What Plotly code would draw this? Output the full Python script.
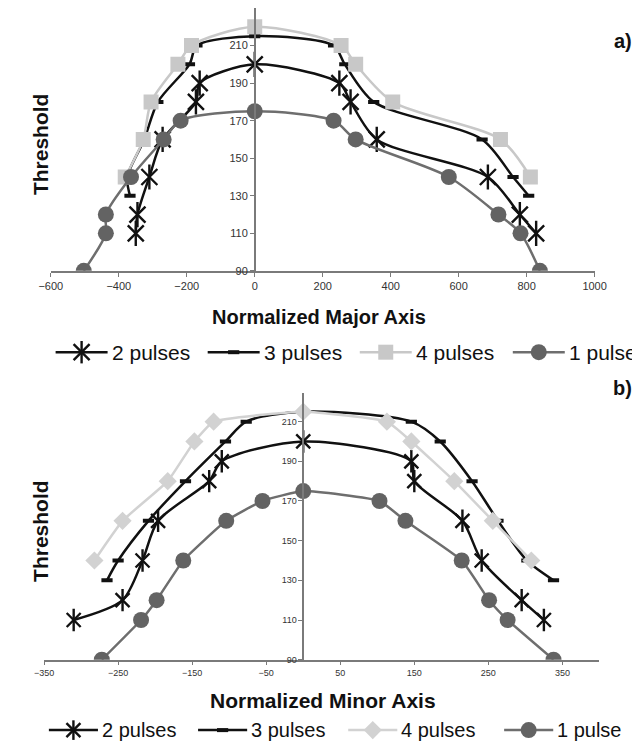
import plotly.graph_objects as go

# ---------------- Panel a) Normalized Major Axis ----------------
a_x_2 = [-350, -345, -310, -271, -173, -162, 0, 249, 282, 359, 686, 780, 828]
a_y_2 = [110, 120, 140, 160, 180, 190, 200, 190, 180, 160, 140, 120, 110]
a_x_3 = [-367, -375, -325, -285, -192, -170, 0, 232, 265, 350, 669, 760, 806]
a_y_3 = [130, 140, 160, 180, 200, 210, 215, 210, 200, 180, 160, 140, 130]
a_x_4 = [-381, -328, -305, -226, -186, 0, 254, 297, 406, 723, 811]
a_y_4 = [140, 160, 180, 200, 210, 220, 210, 200, 180, 160, 140]
a_x_1 = [-503, -438, -438, -364, -268, -218, 0, 232, 297, 571, 717, 782, 839]
a_y_1 = [90, 110, 120, 140, 160, 170, 175, 170, 160, 140, 120, 110, 90]
a_xticks = [-600, -400, -200, 0, 200, 400, 600, 800, 1000]

# ---------------- Panel b) Normalized Minor Axis ----------------
b_x_2 = [-310, -244, -217, -196, -127, -110, 0, 146, 150, 215, 241, 295, 325]
b_y_2 = [110, 120, 140, 160, 180, 190, 200, 190, 180, 160, 140, 120, 110]
b_x_3 = [-265, -250, -209, -159, -105, -77, 0, 146, 185, 228, 263, 302, 338]
b_y_3 = [130, 140, 160, 180, 200, 210, 215, 210, 200, 180, 160, 140, 130]
b_x_4 = [-282, -244, -183, -147, -121, 0, 113, 146, 204, 256, 308]
b_y_4 = [140, 160, 180, 200, 210, 215, 210, 200, 180, 160, 140]
b_x_1 = [-272, -219, -198, -162, -104, -55, 0, 103, 138, 214, 251, 276, 338]
b_y_1 = [90, 110, 120, 140, 160, 170, 175, 170, 160, 140, 120, 110, 90]
b_xticks = [-350, -250, -150, -50, 50, 150, 250, 350]

yticks = [90, 110, 130, 150, 170, 190, 210]
names = ["2 pulses", "3 pulses", "4 pulses", "1 pulse"]

W, H = 640, 742
BLACK = "#111111"
LGRAY = "#c8c8c8"
LGRAY_B = "#d2d2d2"
DGRAY = "#636363"
DGRAY_L = "#6e6e6e"
AXC = "#7a7a7a"
FONT = "Liberation Sans, Arial, sans-serif"

fig = go.Figure()


def series_style(panel):
    sym4 = "square" if panel == "a" else "diamond"
    col4 = LGRAY if panel == "a" else LGRAY_B
    star = 16 if panel == "a" else 14
    return [
        dict(line=dict(color=BLACK, width=2.5),
             marker=dict(symbol="x-thin-open", size=star, color=BLACK, line=dict(color=BLACK, width=2.4))),
        dict(line=dict(color=BLACK, width=2.5),
             marker=dict(symbol="line-ew-open", size=8, color=BLACK, line=dict(color=BLACK, width=4))),
        dict(line=dict(color=col4, width=2.5),
             marker=dict(symbol=sym4, size=15 if sym4 == "square" else 14, color=col4)),
        dict(line=dict(color=DGRAY_L, width=2.5),
             marker=dict(symbol="circle", size=16, color=DGRAY)),
    ], star


def add_panel(panel, xa, ya, data, sm_light):
    styles, star = series_style(panel)
    smooth = [0.8, 0.8, sm_light, sm_light]
    for i, (xs, ys) in enumerate(data):
        st = styles[i]
        fig.add_trace(go.Scatter(
            x=xs, y=ys, name=names[i], xaxis=xa, yaxis=ya, showlegend=False,
            mode="lines+markers",
            line=dict(st["line"], shape="spline", smoothing=smooth[i]),
            marker=st["marker"]))
        if i == 0:
            fig.add_trace(go.Scatter(
                x=xs, y=ys, xaxis=xa, yaxis=ya, showlegend=False, hoverinfo="skip",
                mode="markers",
                marker=dict(symbol="line-ns-open", size=star + 2, color=BLACK,
                            line=dict(color=BLACK, width=2.4))))


add_panel("a", "x", "y",
          [(a_x_2, a_y_2), (a_x_3, a_y_3), (a_x_4, a_y_4), (a_x_1, a_y_1)], 0.8)
add_panel("b", "x2", "y2",
          [(b_x_2, b_y_2), (b_x_3, b_y_3), (b_x_4, b_y_4), (b_x_1, b_y_1)], 0.4)

# ---------------- manual legends (layout positions in pixels) ----------------
leg_a = dict(y=347, starts=[37, 195, 353, 512], length=54, fs=21)
leg_b = dict(y=728, starts=[30, 185, 341, 503], length=51, fs=20)


def add_legend(panel, spec):
    styles, star = series_style(panel)
    yy = spec["y"]
    for i, x0 in enumerate(spec["starts"]):
        x1 = x0 + spec["length"]
        xc = (x0 + x1) / 2
        st = styles[i]
        fig.add_trace(go.Scatter(
            x=[x0, x1], y=[yy, yy], xaxis="x3", yaxis="y3", mode="lines",
            line=st["line"], showlegend=False, hoverinfo="skip"))
        mk = dict(st["marker"])
        fig.add_trace(go.Scatter(
            x=[xc], y=[yy], xaxis="x3", yaxis="y3", mode="markers",
            marker=mk, showlegend=False, hoverinfo="skip"))
        if i == 0:
            fig.add_trace(go.Scatter(
                x=[xc], y=[yy], xaxis="x3", yaxis="y3", mode="markers",
                marker=dict(symbol="line-ns-open", size=star, color=BLACK,
                            line=dict(color=BLACK, width=2.4)),
                showlegend=False, hoverinfo="skip"))
        fig.add_annotation(xref="x3", yref="y3", x=x1 + 2, y=yy, text=names[i],
                           showarrow=False, xanchor="left", yanchor="middle",
                           font=dict(family=FONT, size=spec["fs"], color="#111111"))


add_legend("a", leg_a)
add_legend("b", leg_b)

# domains (paper fractions)
ax_dom = [32 / W, 597 / W]
ay_dom = [1 - 265 / H, 1.0]
bx_dom = [25 / W, 602 / W]
by_dom = [1 - 657 / H, 1 - 388 / H]
a_rng = [-600, 1000]
b_rng = [-350, 400]
a_ypos = ax_dom[0] + (0 - a_rng[0]) / (a_rng[1] - a_rng[0]) * (ax_dom[1] - ax_dom[0])
b_ypos = bx_dom[0] + (0 - b_rng[0]) / (b_rng[1] - b_rng[0]) * (bx_dom[1] - bx_dom[0])

tickfont = dict(family=FONT, size=11, color="#333333")
tickfont_b = dict(family=FONT, size=9, color="#333333")
common_x = dict(showgrid=False, zeroline=False, showline=True, linecolor=AXC, linewidth=1.5,
                ticks="outside", ticklen=4, tickcolor=AXC, fixedrange=True)
common_y = dict(showgrid=False, zeroline=False, showline=True, linecolor=AXC, linewidth=1.5,
                ticks="outside", ticklen=4, tickcolor=AXC, tickvals=yticks, fixedrange=True)

fig.update_layout(
    width=W, height=H, margin=dict(l=0, r=0, t=0, b=0),
    paper_bgcolor="white", plot_bgcolor="rgba(0,0,0,0)",
    font=dict(family=FONT, color="#111111"),
    showlegend=False,
    xaxis=dict(domain=ax_dom, range=a_rng, tickvals=a_xticks, tickfont=tickfont,
               anchor="y", **common_x),
    yaxis=dict(domain=ay_dom, range=[90, 230], anchor="free", position=a_ypos,
               tickfont=tickfont, **common_y),
    xaxis2=dict(domain=bx_dom, range=b_rng, tickvals=b_xticks, tickfont=tickfont_b,
                anchor="y2", **common_x),
    yaxis2=dict(domain=by_dom, range=[90, 224.5], anchor="free", position=b_ypos,
                tickfont=tickfont_b, **common_y),
    xaxis3=dict(domain=[0, 1], range=[0, W], visible=False, fixedrange=True, anchor="y3"),
    yaxis3=dict(domain=[0, 1], range=[H, 0], visible=False, fixedrange=True, anchor="x3"),
)

annos = [
    dict(text="<b>Threshold</b>", x=22 / W, y=1 - 137 / H, textangle=-90, size=21),
    dict(text="<b>Threshold</b>", x=22 / W, y=1 - 527 / H, textangle=-90, size=21),
    dict(text="<b>Normalized Major Axis</b>", x=311 / W, y=1 - 312 / H, size=20),
    dict(text="<b>Normalized Minor Axis</b>", x=315 / W, y=1 - 698 / H, size=21),
    dict(text="<b>a)</b>", x=626 / W, y=1 - 33 / H, size=20),
    dict(text="<b>b)</b>", x=626 / W, y=1 - 383 / H, size=20),
]
for a in annos:
    sz = a.pop("size")
    fig.add_annotation(xref="paper", yref="paper", showarrow=False,
                       font=dict(family=FONT, size=sz, color="#111111"),
                       xanchor="center", yanchor="middle", **a)

fig.write_html("out.html")
